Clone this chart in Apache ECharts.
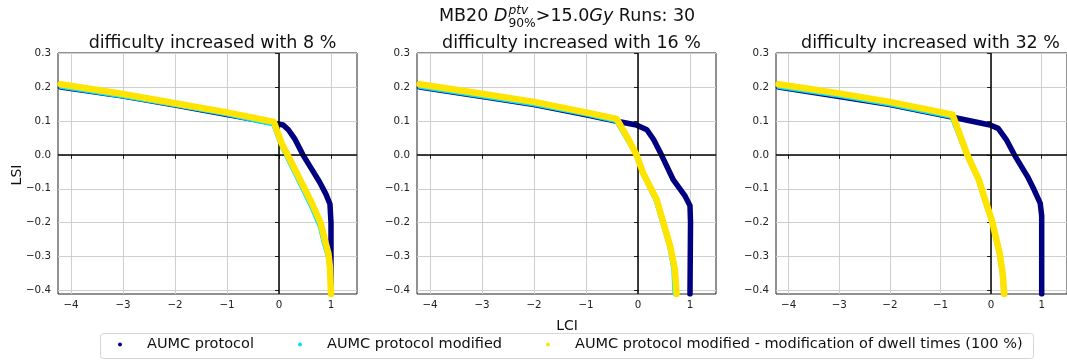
<!DOCTYPE html>
<html>
<head>
<meta charset="utf-8">
<script src="https://cdn.jsdelivr.net/npm/echarts@6/dist/echarts.min.js"></script>
<style>
  html, body { margin: 0; padding: 0; background: #fff; }
  #chart { width: 1067px; height: 360px; }
</style>
</head>
<body>
<div id="chart"></div>
<script>
// tick labels
const xTicks = [-4, -3, -2, -1, 0, 1];
const yTicks = [-0.4, -0.3, -0.2, -0.1, 0.0, 0.1, 0.2, 0.3];
const difficulties = [8, 16, 32];
const seriesNames = ['AUMC protocol', 'AUMC protocol modified', 'AUMC protocol modified - modification of dwell times (100 %)'];

// difficulty +8 %
const lci8Protocol = [-4.2, -3, -2, -1, -0.05, 0.08, 0.18, 0.3, 0.46, 0.62, 0.78, 0.9, 0.98, 1.0, 1.0];
const lsi8Protocol = [0.200, 0.173, 0.147, 0.119, 0.092, 0.088, 0.074, 0.048, 0.0, -0.04, -0.08, -0.115, -0.145, -0.2, -0.41];
const lci8Modified = [-4.2, -3, -2, -1, -0.11, 0.03, 0.29, 0.61, 0.78, 0.86, 0.94, 0.97, 0.99];
const lsi8Modified = [0.200, 0.172, 0.146, 0.119, 0.089, 0.030, -0.05, -0.15, -0.21, -0.26, -0.30, -0.34, -0.41];
const lci8Dwell = [-4.2, -3, -2, -1, -0.1, 0.05, 0.31, 0.63, 0.8, 0.88, 0.95, 0.98, 1.0];
const lsi8Dwell = [0.208, 0.179, 0.152, 0.125, 0.097, 0.034, -0.044, -0.142, -0.2, -0.25, -0.29, -0.33, -0.41];

// difficulty +16 %
const lci16Protocol = [-4.2, -3, -2, -1, -0.38, -0.03, 0.17, 0.3, 0.45, 0.68, 0.9, 1.0, 1.01, 1.0];
const lsi16Protocol = [0.200, 0.172, 0.148, 0.118, 0.098, 0.088, 0.074, 0.045, 0.0, -0.074, -0.12, -0.15, -0.2, -0.41];
const lci16Modified = [-4.2, -3, -2, -1, -0.42, -0.04, 0.08, 0.34, 0.6, 0.68, 0.7];
const lsi16Modified = [0.200, 0.172, 0.148, 0.119, 0.099, 0.0, -0.054, -0.135, -0.27, -0.34, -0.41];
const lci16Dwell = [-4.2, -3, -2, -1, -0.41, -0.2, -0.03, 0.1, 0.36, 0.62, 0.71, 0.74];
const lsi16Dwell = [0.208, 0.180, 0.156, 0.125, 0.106, 0.05, 0.0, -0.054, -0.132, -0.27, -0.338, -0.41];

// difficulty +32 %
const lci32Protocol = [-4.2, -3, -2, -0.8, -0.02, 0.14, 0.3, 0.46, 0.72, 0.85, 0.97, 1.0, 1.0];
const lsi32Protocol = [0.200, 0.172, 0.148, 0.112, 0.088, 0.078, 0.045, 0.0, -0.064, -0.103, -0.142, -0.18, -0.41];
const lci32Modified = [-4.2, -3, -2, -1, -0.78, -0.49, -0.26, -0.14, -0.01, 0.15, 0.21, 0.24];
const lsi32Modified = [0.200, 0.173, 0.148, 0.118, 0.111, 0.0, -0.074, -0.132, -0.19, -0.29, -0.35, -0.41];
const lci32Dwell = [-4.2, -3, -2, -1, -0.76, -0.47, -0.24, -0.12, 0.01, 0.17, 0.23, 0.26];
const lsi32Dwell = [0.208, 0.181, 0.156, 0.126, 0.118, 0.0, -0.074, -0.132, -0.19, -0.29, -0.35, -0.41];

const panels = [
  [[lci8Protocol, lsi8Protocol], [lci8Modified, lsi8Modified], [lci8Dwell, lsi8Dwell]],
  [[lci16Protocol, lsi16Protocol], [lci16Modified, lsi16Modified], [lci16Dwell, lsi16Dwell]],
  [[lci32Protocol, lsi32Protocol], [lci32Modified, lsi32Modified], [lci32Dwell, lsi32Dwell]]
];

const colors = ['#000080', '#00e1ff', '#ffe400'];
const widths = [5.5, 4, 6.5];
const FONT = '"DejaVu Sans", sans-serif';
const panelLefts = [58, 417, 776];
const panelWidth = 299;
const legendLefts = [118, 298, 546];

const zip = (xs, ys) => xs.map((x, i) => [x, ys[i]]);
const minus = s => s.replace('-', '\u2212');

const chart = echarts.init(document.getElementById('chart'));

// 主标题：上下标要手动排
const ctx = document.createElement('canvas').getContext('2d');
const measure = (s, font) => { ctx.font = font; return ctx.measureText(s).width; };
const bigFont = '17.5px ' + FONT;
const bigItalic = 'italic 17.5px ' + FONT;
const smallItalic = 'italic 12.3px ' + FONT;
const smallFont = '12.3px ' + FONT;

function titleGraphic() {
  const parts = [];
  let x = 439;
  const put = (text, font, y) => {
    parts.push({
      type: 'text', x: x, y: y, silent: true,
      style: { text: text, font: font, fill: '#111', align: 'left', verticalAlign: 'middle', textAlign: 'left', textVerticalAlign: 'middle' }
    });
  };
  put('MB20 ', bigFont, 16); x += measure('MB20 ', bigFont);
  put('D', bigItalic, 16); x += measure('D', bigItalic) + 1;
  put('ptv', smallItalic, 10.5);
  put('90%', smallFont, 23.5);
  x += Math.max(measure('ptv', smallItalic), measure('90%', smallFont));
  put('>15.0', bigFont, 16); x += measure('>15.0', bigFont);
  put('Gy', bigItalic, 16); x += measure('Gy', bigItalic);
  put(' Runs: 30', bigFont, 16);
  return parts;
}

const grids = [], xAxes = [], yAxes = [], series = [], titles = [];
panels.forEach((panel, p) => {
  grids.push({
    left: panelLefts[p], top: 53, width: panelWidth, height: 241,
    show: true, borderColor: '#222', borderWidth: 1, backgroundColor: 'transparent'
  });
  xAxes.push({
    type: 'value', gridIndex: p, min: -4.25, max: 1.5,
    axisLine: { show: false },
    axisTick: { show: true, inside: false, length: 4, customValues: xTicks, lineStyle: { color: '#222' } },
    axisLabel: { customValues: xTicks, color: '#222', fontSize: 10.3, fontFamily: FONT, margin: 6, formatter: v => minus(String(v)) },
    splitLine: { show: true, lineStyle: { color: '#cfcfcf', width: 1 } }
  });
  yAxes.push({
    type: 'value', gridIndex: p, min: -0.41, max: 0.3,
    axisLine: { show: false },
    axisTick: { show: true, inside: false, length: 4, customValues: yTicks, lineStyle: { color: '#222' } },
    axisLabel: { customValues: yTicks, color: '#222', fontSize: 10.3, fontFamily: FONT, margin: 7, formatter: v => minus(v.toFixed(1)) },
    splitLine: { show: true, lineStyle: { color: '#cfcfcf', width: 1 } }
  });
  titles.push({
    text: 'difficulty increased with ' + difficulties[p] + ' %',
    left: panelLefts[p] + panelWidth / 2, top: 29, textAlign: 'center',
    textStyle: { fontSize: 17.5, fontWeight: 'normal', fontFamily: FONT, color: '#111' }
  });
  panel.forEach((d, s) => {
    const item = {
      name: seriesNames[s], type: 'line', xAxisIndex: p, yAxisIndex: p,
      data: zip(d[0], d[1]),
      showSymbol: false, smooth: false, z: 3 + s,
      color: colors[s],
      lineStyle: { color: colors[s], width: widths[s], cap: 'round', join: 'round' },
      animation: false
    };
    if (s === 0) {
      item.markLine = {
        silent: true, symbol: 'none', label: { show: false }, animation: false,
        lineStyle: { color: '#000', width: 1.5, type: 'solid' },
        data: [{ xAxis: 0 }, { yAxis: 0 }]
      };
    }
    series.push(item);
  });
});

// one legend per entry so the spacing matches the original
const legends = seriesNames.map((name, i) => ({
  left: legendLefts[i], top: 337,
  padding: 0,
  itemWidth: 20, itemHeight: 4,
  icon: 'circle',
  textStyle: { fontSize: 14.5, fontFamily: FONT, color: '#111', padding: [0, 0, 0, 12] },
  data: [name]
}));

const option = {
  backgroundColor: '#fff',
  animation: false,
  title: titles,
  grid: grids,
  xAxis: xAxes,
  yAxis: yAxes,
  legend: legends,
  graphic: titleGraphic().concat([
    { type: 'rect', silent: true, z: -1,
      shape: { x: 100.5, y: 333.5, width: 933, height: 25, r: 3 },
      style: { fill: '#fff', stroke: '#d6d6d6', lineWidth: 1 } },
    { type: 'text', x: 17, y: 175, rotation: Math.PI / 2, silent: true,
      style: { text: 'LSI', font: '14px ' + FONT, fill: '#111', align: 'center', verticalAlign: 'middle', textAlign: 'center', textVerticalAlign: 'middle' } },
    { type: 'text', x: 567, y: 326, silent: true,
      style: { text: 'LCI', font: '14px ' + FONT, fill: '#111', align: 'center', verticalAlign: 'middle', textAlign: 'center', textVerticalAlign: 'middle' } }
  ]),
  series: series
};

chart.setOption(option);
window.addEventListener('resize', () => chart.resize());
</script>
</body>
</html>
